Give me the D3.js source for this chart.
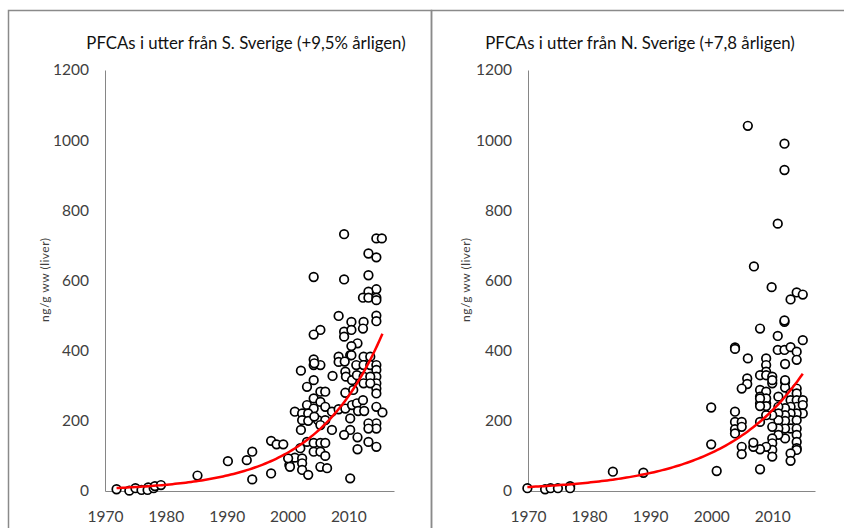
<!DOCTYPE html>
<html>
<head>
<meta charset="utf-8">
<script src="https://cdn.jsdelivr.net/npm/d3@7"></script>
<style>
  html, body { margin: 0; padding: 0; background: #fff; }
  svg { display: block; }
  .tick-label { font-family: Lato, "Open Sans", sans-serif; font-size: 15.5px; fill: #404040; }
  .title { font-family: Lato, "Open Sans", sans-serif; font-size: 16.8px; fill: #111; }
  .ylab { font-family: Lato, "Open Sans", sans-serif; font-size: 12px; fill: #404040; }
</style>
</head>
<body>
<svg id="chart" width="844" height="528"></svg>
<script>
// Panel titles
const titles = [
  "PFCAs i utter från S. Sverige (+9,5% årligen)",
  "PFCAs i utter från N. Sverige (+7,8 årligen)"
];
const yAxisTitle = "ng/g ww (liver)";

// Axis ticks
const yTicks = [0, 200, 400, 600, 800, 1000, 1200];
const xTicks = [1970, 1980, 1990, 2000, 2010];

// Annual growth of the exponential trend (from the titles)
const growthRates = [0.095, 0.078];
// Trend start (year, value) and end year per panel
const trendStartYear = [1971.9, 1969.9];
const trendStartValue = [8.5, 11.3];
const trendEndYear = [2015.6, 2015.0];

// Southern Sweden: [year, ng/g ww]
const southYears = [
  1971.9,1974,1975,1976,1977.1,1977,1978,1978.2,1979.2,1985.2,1990.2,1993.3,1994.2,1994.2,1997.3,1997.3,1998.2,1999.3,2000.3,
  2004.3,2004.3,2005.4,2008.4,2008.4,2010.3,2012.5,2013.6,2011.3,2012.5,2013.6,
  2014.6,2014.6,2014.6,2014.6,2014.6,2014.6,2014.6,2014.6,2014.6,2014.6,
  2002.2,2007.4,2009.5,2009.6,2010.6,2011.4,2012.5,2013.6,2012.5,2013.6,2004.3,2003.2,2005.4,2006.2,2009.5,2010.8,
  2004.3,2005.4,2003.2,2004.3,2001.2,2002.4,2003.4,2006.2,2007.3,2008.4,2009.5,2010.6,2011.4,2012.4,2011.6,2012.6,2015.6,
  2002.4,2003.4,2005,2006.2,2005.4,2010.3,2013.3,2013.3,2002.2,2007.3,2010.3,2009.3,2011.5,2013.3,2011.5,
  2003.2,2004.3,2005.4,2006.2,2002.1,2001.2,2002.4,2000.1,2004.3,2005.4,2006.2,2002.4,2000.4,2005.4,2006.5,2002.4,2003.4,2010.3,
  2009.3,2014.6,2015.5,2013.3,2014.6,2004.3,2009.3,2013.3,2014.6,2013.3,2012.4,2013.3,2014.6,2014.6,2008.4,2014.6,2014.6,
  2010.5,2012.5,2012.4,2005.4,2004.3,2009.3,2009.3,2010.5,2011.5,2010.5,2010.5,2004.4,2009.4,2004.4
];
const southValues = [
  5,1,8,3,10,3,8,14,17,44,85,88,112,33,143,50,133,133,74,
  375,359,359,383,368,387,383,383,359,359,359,
  359,345,326,307,292,278,240,193,178,126,
  343,328,340,326,316,330,326,326,307,307,316,297,283,283,280,288,
  264,254,245,235,226,221,221,240,226,233,235,245,250,259,228,228,224,
  202,200,202,202,188,207,193,178,174,174,174,160,153,140,119,
  140,137,137,137,122,95,93,93,112,112,100,79,69,69,65,60,46,36,
  732,720,720,677,666,610,603,615,575,568,551,551,551,544,499,500,484,
  482,482,463,459,446,454,440,459,421,413,387,364,369,212
];

// Northern Sweden: [year, ng/g ww]
const northYears = [
  1969.9,1972.8,1973.7,1974.9,1976.9,1976.9,1983.9,1988.9,2000,2000,2000.9,
  2006,2012,2012,2010.9,2007,2009.9,2014,2015,2013,2012,2012,2008,2010.9,2015,2003.9,2003.9,
  2010.9,2012,2013,2014,2006,2009,2009,2012.1,2014,2009,
  2005.9,2005.9,2005,2008,2009,2010,2010,2008,2009,2008,2008,2009,2011,2012.1,2012.1,2013,2013,
  2014,2014,2014,2014,2015,2015,2015,2014,2013,2013,2013,2013,
  2012.1,2012.1,2012.1,2012.1,2012.1,2011,2011,2011,2011,2011,
  2010,2010,2010,2010,2010,2010,2009,2008,2009,2008,2006.9,2006.9,
  2014,2014,2014,2014,2014,2014,2013,2013,
  2003.9,2003.9,2005,2003.9,2005,2003.9,2005,2005,2008,2010,2012.1,2009,2008,2009,2008
];
const northValues = [
  8,5,8,8,14,8,55,52,238,133,57,
  1041,990,915,762,640,581,566,560,546,482,486,463,442,430,409,405,
  402,402,410,397,378,378,359,362,374,340,
  321,305,292,330,330,326,307,288,283,269,250,250,269,311,295,278,259,
  292,278,259,240,259,245,221,221,240,221,202,178,
  236,216,200,178,150,240,221,202,178,160,
  216,183,150,136,117,98,216,197,126,119,126,138,
  202,178,160,140,122,117,107,86,
  226,197,197,176,183,164,126,105,62,316,316,264,264,242,242
];

const panels = [
  { years: southYears, values: southValues, left: 105, right: 394, xMax: 2017.5 },
  { years: northYears, values: northValues, left: 528, right: 815, xMax: 2017.0 }
];

const svg = d3.select("#chart");

// Panel frames
svg.append("rect").attr("x", 8.5).attr("y", 10.5).attr("width", 423).attr("height", 540)
  .attr("fill", "none").attr("stroke", "#8a8a8a").attr("stroke-width", 1.5);
svg.append("rect").attr("x", 431.5).attr("y", 10.5).attr("width", 430).attr("height", 540)
  .attr("fill", "none").attr("stroke", "#8a8a8a").attr("stroke-width", 1.5);

const plotTop = 70, plotBottom = 491;

panels.forEach((p, i) => {
  const g = svg.append("g");
  const x = d3.scaleLinear().domain([1970, p.xMax]).range([p.left, p.right]);
  const y = d3.scaleLinear().domain([0, 1200]).range([plotBottom, plotTop]);

  // Title
  g.append("text").attr("class", "title")
    .attr("x", i === 0 ? 246 : 640).attr("y", 45)
    .attr("text-anchor", "middle").attr("dominant-baseline", "middle")
    .text(titles[i]);

  // Y axis
  const yAxis = d3.axisLeft(y).tickValues(yTicks).tickSize(0).tickPadding(16).tickFormat(d3.format("d"));
  const ya = g.append("g").attr("transform", `translate(${p.left},0)`).call(yAxis);
  ya.select(".domain").attr("stroke", "#868686").attr("stroke-width", 1);
  ya.selectAll(".tick text").attr("class", "tick-label").attr("font-family", null).attr("font-size", null).attr("fill", null);

  // X axis
  const xAxis = d3.axisBottom(x).tickValues(xTicks).tickSize(0).tickPadding(20).tickFormat(d3.format("d"));
  const xa = g.append("g").attr("transform", `translate(0,${plotBottom})`).call(xAxis);
  xa.select(".domain").attr("stroke", "#868686").attr("stroke-width", 1);
  xa.selectAll(".tick text").attr("class", "tick-label").attr("font-family", null).attr("font-size", null).attr("fill", null);

  // Y axis title
  g.append("text").attr("class", "ylab")
    .attr("transform", `translate(${i === 0 ? 49 : 470},280) rotate(-90)`)
    .attr("text-anchor", "middle")
    .attr("textLength", 84).attr("lengthAdjust", "spacing")
    .text(yAxisTitle);

  // Points
  const pts = p.years.map((yr, k) => [yr, p.values[k]]);
  g.append("g").selectAll("circle").data(pts).join("circle")
    .attr("cx", d => x(d[0])).attr("cy", d => y(d[1])).attr("r", 4.3)
    .attr("fill", "#fff").attr("stroke", "#000").attr("stroke-width", 1.7);

  // Exponential trend
  const r = growthRates[i];
  const steps = d3.range(0, 101).map(s => trendStartYear[i] + (trendEndYear[i] - trendStartYear[i]) * s / 100);
  const trend = steps.map(t => [t, trendStartValue[i] * Math.pow(1 + r, t - trendStartYear[i])]);
  g.append("path").datum(trend)
    .attr("d", d3.line().x(d => x(d[0])).y(d => y(d[1])))
    .attr("fill", "none").attr("stroke", "#ff0000").attr("stroke-width", 2.5);
});
</script>
</body>
</html>
